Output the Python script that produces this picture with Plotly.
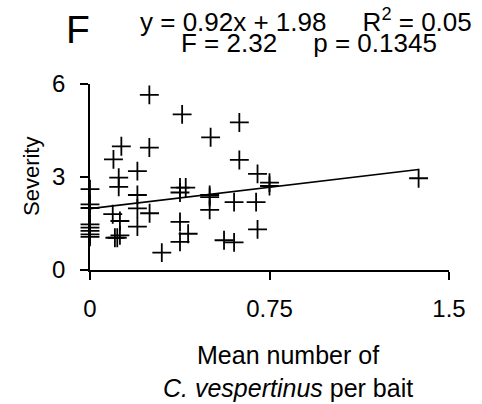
import plotly.graph_objects as go

# Data (Mean number of C. vespertinus per bait vs Severity)
mean_per_bait = [
    0, 0, 0, 0, 0, 0, 0, 0,
    0.098, 0.131, 0.12, 0.12, 0.095, 0.125, 0.104, 0.114, 0.125,
    0.198, 0.198, 0.198, 0.198,
    0.248, 0.248, 0.249,
    0.30,
    0.385, 0.376, 0.40, 0.376, 0.376, 0.41, 0.376,
    0.504, 0.50, 0.50, 0.50,
    0.56,
    0.624, 0.624, 0.602, 0.602,
    0.70, 0.694, 0.70,
    0.75, 0.75,
    1.373,
]
severity = [
    2.61, 2.12, 2.0, 1.47, 1.37, 1.26, 1.15, 1.07,
    3.57, 3.99, 2.98, 2.68, 1.80, 1.58, 1.04, 1.04, 1.12,
    3.19, 2.42, 1.99, 1.40,
    5.65, 3.95, 1.83,
    0.56,
    5.02, 2.66, 2.66, 2.50, 1.55, 1.17, 0.91,
    4.28, 2.42, 2.35, 1.94,
    0.96,
    4.76, 3.55, 2.19, 0.89,
    3.10, 2.19, 1.31,
    2.82, 2.71,
    2.96,
]
slope = 0.92
intercept = 1.98
x_ticks = [0, 0.75, 1.5]
x_tick_text = ["0", "0.75", "1.5"]
y_ticks = [0, 3, 6]
y_tick_text = ["0", "3", "6"]
panel_label = "F"
GAP = "\u00a0" * 5
eq_line1 = "y = 0.92x + 1.98" + GAP + "R<sup>2</sup> = 0.05"
eq_line2 = "F = 2.32" + GAP + "p = 0.1345"
y_title = "Severity"
x_title = "Mean number of<br><i>C. vespertinus</i> per bait"

FONT = "Liberation Sans, Arial, sans-serif"

fit_x = [0, max(mean_per_bait)]
fit_y = [slope * v + intercept for v in fit_x]

fig = go.Figure()
fig.add_trace(go.Scatter(
    x=fit_x, y=fit_y, mode="lines",
    line=dict(color="black", width=1.6),
    showlegend=False, hoverinfo="skip", cliponaxis=False,
))
fig.add_trace(go.Scatter(
    x=mean_per_bait, y=severity, mode="markers",
    marker=dict(symbol="cross-thin", size=13.5, color="black",
                line=dict(color="black", width=1.8)),
    showlegend=False, cliponaxis=False,
))

L, R, T, B = 90, 33, 84, 134
W, H = 482, 404
pw, ph = W - L - R, H - T - B

def px(xp):
    return (xp - L) / pw

def py(yp):
    return (H - B - yp) / ph

fig.update_layout(
    width=W, height=H,
    margin=dict(l=L, r=R, t=T, b=B),
    paper_bgcolor="white", plot_bgcolor="white",
    font=dict(family=FONT, color="black", size=24),
    xaxis=dict(
        range=[0, 1.5], tickvals=x_ticks, ticktext=x_tick_text,
        showgrid=False, zeroline=False, showline=True, linecolor="black", linewidth=1.6,
        ticks="outside", ticklen=8, tickwidth=1.6, tickcolor="black",
        tickfont=dict(size=24), ticklabelstandoff=8,
    ),
    yaxis=dict(
        range=[0, 6], tickvals=y_ticks, ticktext=y_tick_text,
        showgrid=False, zeroline=False, showline=True, linecolor="black", linewidth=1.6,
        ticks="outside", ticklen=8, tickwidth=1.6, tickcolor="black",
        tickfont=dict(size=24), ticklabelstandoff=10,
    ),
    annotations=[
        dict(text=panel_label, x=px(78), y=py(29), xref="paper", yref="paper",
             xanchor="center", yanchor="middle", showarrow=False, font=dict(size=39)),
        dict(text=eq_line1, x=px(306), y=py(20), xref="paper", yref="paper",
             xanchor="center", yanchor="middle", showarrow=False, font=dict(size=26)),
        dict(text=eq_line2, x=px(309), y=py(43), xref="paper", yref="paper",
             xanchor="center", yanchor="middle", showarrow=False, font=dict(size=26)),
        dict(text=y_title, x=px(31), y=py(177), xref="paper", yref="paper", textangle=-90,
             xanchor="center", yanchor="middle", showarrow=False, font=dict(size=22)),
        dict(text=x_title, x=px(288), y=py(371), xref="paper", yref="paper",
             xanchor="center", yanchor="middle", showarrow=False, font=dict(size=25),
             borderpad=0),
    ],
)

fig.write_html("out.html")
